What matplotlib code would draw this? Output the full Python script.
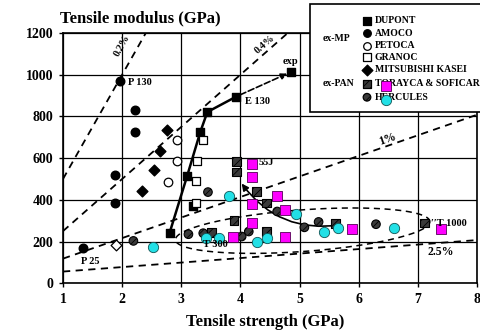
import numpy as np
import matplotlib.pyplot as plt
from matplotlib.patches import Rectangle

plt.rcParams['font.family'] = ['Liberation Serif', 'DejaVu Serif']
plt.rcParams['font.weight'] = 'bold'
plt.rcParams['hatch.color'] = '#b0b0b0'
plt.rcParams['hatch.linewidth'] = 0.6

# ex-MP fibres: strength (GPa), modulus (GPa)
dupont_x = [2.80, 3.10, 3.32, 3.44, 3.93, 4.85]
dupont_y = [240, 516, 725, 821, 895, 1015]
dupont2_x = [3.19]
dupont2_y = [372]
amoco_x = [1.97, 2.21, 2.21, 1.88, 1.88, 1.34]
amoco_y = [968, 832, 725, 520, 384, 168]
petoca_x = [2.93, 2.93, 2.77]
petoca_y = [688, 584, 485]
granoc_x = [3.36, 3.27, 3.25, 3.24]
granoc_y = [685, 587, 488, 384]
mitsu_x = [2.76, 2.64, 2.53, 2.33]
mitsu_y = [736, 632, 541, 443]
odiam_x = [1.90]
odiam_y = [184]

# ex-PAN fibres
torayca_x = [3.93, 3.93, 4.27, 4.44, 3.89, 3.51, 4.44, 5.61, 7.11]
torayca_y = [583, 534, 440, 384, 300, 244, 248, 286, 288]
hercules_x = [2.19, 3.12, 3.37, 3.45, 4.02, 4.14, 4.62, 5.08, 5.32, 6.29]
hercules_y = [203, 235, 240, 437, 224, 248, 344, 268, 294, 283]

# added points
mag_x = [6.46, 4.20, 4.20, 4.20, 4.20, 3.88, 4.62, 4.76, 4.76, 5.89, 7.39]
mag_y = [944, 574, 507, 378, 290, 220, 416, 352, 221, 262, 262]
cyan_x = [6.46, 3.80, 2.52, 3.41, 3.64, 4.28, 4.44, 4.93, 5.41, 5.65, 6.60]
cyan_y = [880, 416, 176, 217, 219, 198, 219, 331, 245, 264, 264]

# constant strain lines
strain_lab = ['0.2%', '0.4%', '1%', '2.5%']
strain_x0 = [1, 1, 1, 1]
strain_x1 = [2.4, 4.8, 8, 8]
strain_y0 = [500, 250, 118, 56]
strain_y1 = [1200, 1200, 808, 207]

fig = plt.figure(figsize=(4.81, 3.36), dpi=100)
ax = fig.add_axes([0.131, 0.157, 0.861, 0.745])

#strain lines
for i in range(4):
    ax.plot([strain_x0[i], strain_x1[i]], [strain_y0[i], strain_y1[i]],
            color='black', ls=(0, (4, 3)), lw=1.3, zorder=2)
ax.text(2.0, 1140, strain_lab[0], rotation=61, fontsize=7.5, ha='center', va='center')
ax.text(4.41, 1144, strain_lab[1], rotation=41, fontsize=7.5, ha='center', va='center')
ax.text(6.49, 690, strain_lab[2], rotation=19, fontsize=8.5, ha='center', va='center')
ax.text(7.39, 152, strain_lab[3], fontsize=8.5, ha='center', va='center')

#dashed ellipse round the PAN cluster
t = np.linspace(0, 2 * np.pi, 200)
ex = 5.05 + 2.15 * np.cos(t)
ey = 252 + 100 * np.sin(t) + 20 * (ex - 5.05)
ax.plot(ex, ey, color='black', ls=(0, (4, 3)), lw=1.1, zorder=2)

#DUPONT trend
ax.plot(dupont_x[:5], dupont_y[:5], color='black', lw=1.8, zorder=3)
ax.annotate('', xy=(dupont_x[5] - 0.06, dupont_y[5] - 10), xytext=(dupont_x[4], dupont_y[4]),
            arrowprops=dict(arrowstyle='-|>', color='black', lw=1.2, ls='--',
                            mutation_scale=9, shrinkA=3, shrinkB=0), zorder=3)
#curved arrow
ax.annotate('', xy=(4.02, 478), xytext=(5.7, 280),
            arrowprops=dict(arrowstyle='-|>', color='black', lw=1.2,
                            connectionstyle='arc3,rad=-0.3', mutation_scale=10,
                            shrinkA=0, shrinkB=0), zorder=3)

ms = 38
ax.scatter(dupont_x + dupont2_x, dupont_y + dupont2_y, marker='s', s=ms, c='black', zorder=4)
ax.scatter(amoco_x, amoco_y, marker='o', s=ms, c='black', zorder=4)
ax.scatter(petoca_x, petoca_y, marker='o', s=ms, facecolor='white', edgecolor='black', lw=0.9, zorder=4)
ax.scatter(granoc_x, granoc_y, marker='s', s=ms, facecolor='white', edgecolor='black', lw=0.9, zorder=4)
ax.scatter(mitsu_x, mitsu_y, marker='D', s=30, c='black', zorder=4)
ax.scatter(odiam_x, odiam_y, marker='D', s=30, facecolor='white', edgecolor='black', lw=0.9, zorder=4)
ax.scatter(torayca_x, torayca_y, marker='s', s=ms, facecolor='#3a3a3a', edgecolor='black',
           hatch='////', lw=0.8, zorder=4)
ax.scatter(hercules_x, hercules_y, marker='o', s=ms, facecolor='#3a3a3a', edgecolor='black',
           hatch='////', lw=0.8, zorder=4)
ax.scatter(mag_x, mag_y, marker='s', s=50, facecolor='#ff00ff', edgecolor='#550055', lw=0.6, zorder=5)
ax.scatter(cyan_x, cyan_y, marker='o', s=55, facecolor='#22e0e6', edgecolor='#115555', lw=0.6, zorder=5)

#point labels
lab = dict(fontsize=7.5, va='center', ha='left', zorder=6)
ax.text(2.10, 962, 'P 130', **lab)
ax.text(4.85, 1062, 'exp', fontsize=7.5, va='center', ha='center')
ax.text(4.08, 872, 'E 130', **lab)
ax.text(4.30, 578, '55J', **lab)
ax.text(3.37, 184, 'T 300', **lab)
ax.text(7.22, 288, "\u2032\u2032T 1000", **lab)
ax.text(1.31, 104, 'P 25', **lab)

#legend box drawn in axes coords
ax.add_patch(Rectangle((0.596, 0.684), 0.45, 0.43, transform=ax.transAxes, clip_on=False,
                       facecolor='white', edgecolor='black', lw=1.2, zorder=3.5))
leg_y = [1.049, 0.999, 0.949, 0.903, 0.852, 0.796, 0.743]
leg_lab = ['DUPONT', 'AMOCO', 'PETOCA', 'GRANOC', 'MITSUBISHI KASEI',
           'TORAYCA & SOFICAR', 'HERCULES']
leg_mk = [dict(marker='s', facecolor='black', edgecolor='black'),
          dict(marker='o', facecolor='black', edgecolor='black'),
          dict(marker='o', facecolor='white', edgecolor='black'),
          dict(marker='s', facecolor='white', edgecolor='black'),
          dict(marker='D', facecolor='black', edgecolor='black'),
          dict(marker='s', facecolor='#3a3a3a', edgecolor='black', hatch='////'),
          dict(marker='o', facecolor='#3a3a3a', edgecolor='black', hatch='////')]
for yy, tt, mk in zip(leg_y, leg_lab, leg_mk):
    ax.scatter([0.734], [yy], s=30, lw=0.9, transform=ax.transAxes, clip_on=False, zorder=4, **mk)
    ax.text(0.753, yy, tt, transform=ax.transAxes, fontsize=7.0, va='center', ha='left',
            clip_on=False, zorder=4)
ax.text(0.627, 0.976, 'ex-MP', transform=ax.transAxes, fontsize=7.0, va='center', ha='left', zorder=4)
ax.text(0.627, 0.796, 'ex-PAN', transform=ax.transAxes, fontsize=7.0, va='center', ha='left', zorder=4)

ax.set_xlim(1, 8)
ax.set_ylim(0, 1200)
ax.set_xticks(range(1, 9))
ax.set_yticks(range(0, 1201, 200))
ax.grid(color='black', lw=0.9)
ax.tick_params(length=3, width=1, labelsize=10, pad=4, direction='out')
for s in ax.spines.values():
    s.set_linewidth(1.2)

fig.text(0.125, 0.946, 'Tensile modulus (GPa)', fontsize=12, ha='left', va='center')
fig.text(0.552, 0.042, 'Tensile strength (GPa)', fontsize=12, ha='center', va='center')

plt.savefig('out.png', dpi=100)
